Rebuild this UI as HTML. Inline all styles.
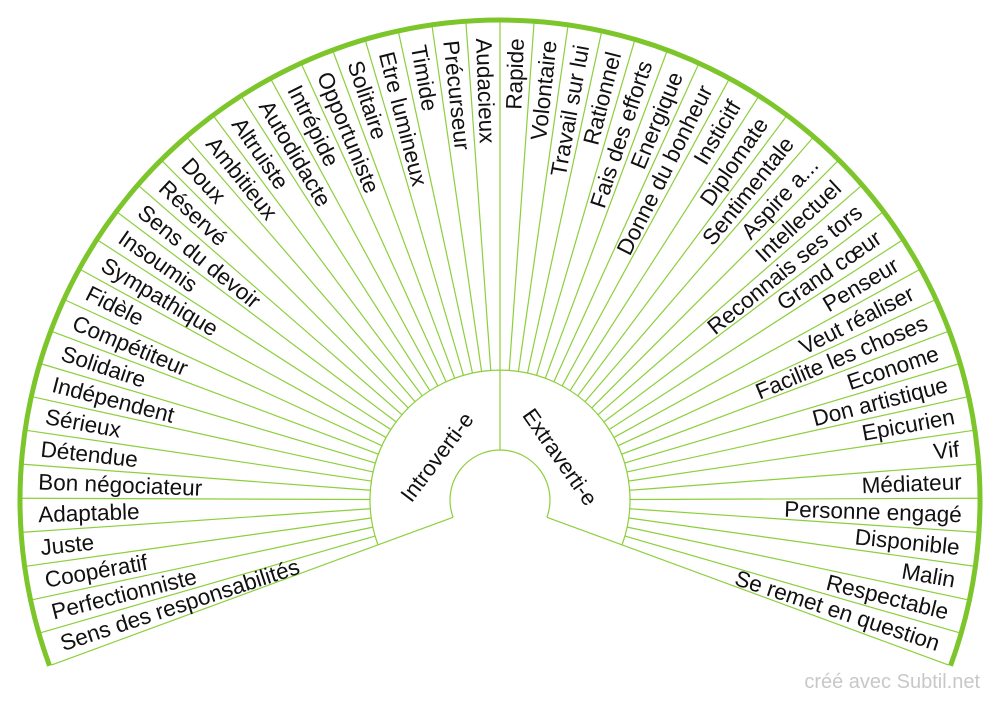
<!DOCTYPE html>
<html><head><meta charset="utf-8"><style>
html,body{margin:0;padding:0;background:#fff;}
svg{display:block;}
text{font-family:"Liberation Sans",Arial,sans-serif;fill:#111;}
.r{font-size:22.5px;dominant-baseline:central;text-anchor:end;}
.l{font-size:22.5px;dominant-baseline:central;text-anchor:start;}
</style></head><body>
<svg width="1000" height="702" viewBox="0 0 1000 702" xmlns="http://www.w3.org/2000/svg">
<g stroke="#8ccf3c" stroke-width="1.2" fill="none">
<path d="M453.1 517.3 A50 50 0 1 1 546.9 517.3"/>
<path d="M378 545 A130 130 0 1 1 622 545"/>
<g transform="translate(500 500)">
<line x1="50" x2="478" transform="rotate(-200.2)"/>
<line x1="50" x2="478" transform="rotate(20.2)"/>
<line x1="50" x2="478" transform="rotate(-90)"/>
<g>
<line x1="130" x2="478" transform="rotate(-196.12)"/>
<line x1="130" x2="478" transform="rotate(-192.04)"/>
<line x1="130" x2="478" transform="rotate(-187.96)"/>
<line x1="130" x2="478" transform="rotate(-183.87)"/>
<line x1="130" x2="478" transform="rotate(-179.79)"/>
<line x1="130" x2="478" transform="rotate(-175.71)"/>
<line x1="130" x2="478" transform="rotate(-171.63)"/>
<line x1="130" x2="478" transform="rotate(-167.55)"/>
<line x1="130" x2="478" transform="rotate(-163.47)"/>
<line x1="130" x2="478" transform="rotate(-159.39)"/>
<line x1="130" x2="478" transform="rotate(-155.30)"/>
<line x1="130" x2="478" transform="rotate(-151.22)"/>
<line x1="130" x2="478" transform="rotate(-147.14)"/>
<line x1="130" x2="478" transform="rotate(-143.06)"/>
<line x1="130" x2="478" transform="rotate(-138.98)"/>
<line x1="130" x2="478" transform="rotate(-134.90)"/>
<line x1="130" x2="478" transform="rotate(-130.81)"/>
<line x1="130" x2="478" transform="rotate(-126.73)"/>
<line x1="130" x2="478" transform="rotate(-122.65)"/>
<line x1="130" x2="478" transform="rotate(-118.57)"/>
<line x1="130" x2="478" transform="rotate(-114.49)"/>
<line x1="130" x2="478" transform="rotate(-110.41)"/>
<line x1="130" x2="478" transform="rotate(-106.33)"/>
<line x1="130" x2="478" transform="rotate(-102.24)"/>
<line x1="130" x2="478" transform="rotate(-98.16)"/>
<line x1="130" x2="478" transform="rotate(-94.08)"/>
<line x1="130" x2="478" transform="rotate(-85.92)"/>
<line x1="130" x2="478" transform="rotate(-81.84)"/>
<line x1="130" x2="478" transform="rotate(-77.76)"/>
<line x1="130" x2="478" transform="rotate(-73.67)"/>
<line x1="130" x2="478" transform="rotate(-69.59)"/>
<line x1="130" x2="478" transform="rotate(-65.51)"/>
<line x1="130" x2="478" transform="rotate(-61.43)"/>
<line x1="130" x2="478" transform="rotate(-57.35)"/>
<line x1="130" x2="478" transform="rotate(-53.27)"/>
<line x1="130" x2="478" transform="rotate(-49.19)"/>
<line x1="130" x2="478" transform="rotate(-45.10)"/>
<line x1="130" x2="478" transform="rotate(-41.02)"/>
<line x1="130" x2="478" transform="rotate(-36.94)"/>
<line x1="130" x2="478" transform="rotate(-32.86)"/>
<line x1="130" x2="478" transform="rotate(-28.78)"/>
<line x1="130" x2="478" transform="rotate(-24.70)"/>
<line x1="130" x2="478" transform="rotate(-20.62)"/>
<line x1="130" x2="478" transform="rotate(-16.53)"/>
<line x1="130" x2="478" transform="rotate(-12.45)"/>
<line x1="130" x2="478" transform="rotate(-8.37)"/>
<line x1="130" x2="478" transform="rotate(-4.29)"/>
<line x1="130" x2="478" transform="rotate(-0.21)"/>
<line x1="130" x2="478" transform="rotate(3.87)"/>
<line x1="130" x2="478" transform="rotate(7.95)"/>
<line x1="130" x2="478" transform="rotate(12.04)"/>
<line x1="130" x2="478" transform="rotate(16.12)"/>
</g>
</g>
</g>
<path d="M49.5 665.7 A480 480 0 1 1 950.5 665.7" stroke="#7cc52a" stroke-width="5" fill="none"/>

<g transform="translate(500 500)">
<text class="l" transform="rotate(-198.16) translate(462 0) rotate(180)">Sens des responsabilités</text>
<text class="l" transform="rotate(-194.08) translate(462 0) rotate(180)">Perfectionniste</text>
<text class="l" transform="rotate(-190.0) translate(462 0) rotate(180)">Coopératif</text>
<text class="l" transform="rotate(-185.92) translate(462 0) rotate(180)">Juste</text>
<text class="l" transform="rotate(-181.83) translate(462 0) rotate(180)">Adaptable</text>
<text class="l" transform="rotate(-177.75) translate(462 0) rotate(180)">Bon négociateur</text>
<text class="l" transform="rotate(-173.67) translate(462 0) rotate(180)">Détendue</text>
<text class="l" transform="rotate(-169.59) translate(462 0) rotate(180)">Sérieux</text>
<text class="l" transform="rotate(-165.51) translate(462 0) rotate(180)">Indépendent</text>
<text class="l" transform="rotate(-161.43) translate(462 0) rotate(180)">Solidaire</text>
<text class="l" transform="rotate(-157.35) translate(462 0) rotate(180)">Compétiteur</text>
<text class="l" transform="rotate(-153.26) translate(462 0) rotate(180)">Fidèle</text>
<text class="l" transform="rotate(-149.18) translate(462 0) rotate(180)">Sympathique</text>
<text class="l" transform="rotate(-145.10) translate(462 0) rotate(180)">Insoumis</text>
<text class="l" transform="rotate(-141.02) translate(462 0) rotate(180)">Sens du devoir</text>
<text class="l" transform="rotate(-136.94) translate(462 0) rotate(180)">Réservé</text>
<text class="l" transform="rotate(-132.86) translate(462 0) rotate(180)">Doux</text>
<text class="l" transform="rotate(-128.77) translate(462 0) rotate(180)">Ambitieux</text>
<text class="l" transform="rotate(-124.69) translate(462 0) rotate(180)">Altruiste</text>
<text class="l" transform="rotate(-120.61) translate(462 0) rotate(180)">Autodidacte</text>
<text class="l" transform="rotate(-116.53) translate(462 0) rotate(180)">Intrépide</text>
<text class="l" transform="rotate(-112.45) translate(462 0) rotate(180)">Opportuniste</text>
<text class="l" transform="rotate(-108.37) translate(462 0) rotate(180)">Solitaire</text>
<text class="l" transform="rotate(-104.29) translate(462 0) rotate(180)">Etre lumineux</text>
<text class="l" transform="rotate(-100.20) translate(462 0) rotate(180)">Timide</text>
<text class="l" transform="rotate(-96.12) translate(462 0) rotate(180)">Précurseur</text>
<text class="l" transform="rotate(-92.04) translate(462 0) rotate(180)">Audacieux</text>
<text class="r" transform="rotate(-87.96) translate(462 0)">Rapide</text>
<text class="r" transform="rotate(-83.88) translate(462 0)">Volontaire</text>
<text class="r" transform="rotate(-79.80) translate(462 0)">Travail sur lui</text>
<text class="r" transform="rotate(-75.71) translate(462 0)">Rationnel</text>
<text class="r" transform="rotate(-71.63) translate(462 0)">Fais des efforts</text>
<text class="r" transform="rotate(-67.55) translate(462 0)">Energique</text>
<text class="r" transform="rotate(-63.47) translate(462 0)">Donne du bonheur</text>
<text class="r" transform="rotate(-59.39) translate(462 0)">Insticitf</text>
<text class="r" transform="rotate(-55.31) translate(462 0)">Diplomate</text>
<text class="r" transform="rotate(-51.23) translate(462 0)">Sentimentale</text>
<text class="r" transform="rotate(-47.14) translate(462 0)">Aspire a...</text>
<text class="r" transform="rotate(-43.06) translate(462 0)">Intellectuel</text>
<text class="r" transform="rotate(-38.98) translate(462 0)">Reconnais ses tors</text>
<text class="r" transform="rotate(-34.90) translate(462 0)">Grand cœur</text>
<text class="r" transform="rotate(-30.82) translate(462 0)">Penseur</text>
<text class="r" transform="rotate(-26.74) translate(462 0)">Veut réaliser</text>
<text class="r" transform="rotate(-22.66) translate(462 0)">Facilite les choses</text>
<text class="r" transform="rotate(-18.57) translate(462 0)">Econome</text>
<text class="r" transform="rotate(-14.49) translate(462 0)">Don artistique</text>
<text class="r" transform="rotate(-10.41) translate(462 0)">Epicurien</text>
<text class="r" transform="rotate(-6.33) translate(462 0)">Vif</text>
<text class="r" transform="rotate(-2.25) translate(462 0)">Médiateur</text>
<text class="r" transform="rotate(1.83) translate(462 0)">Personne engagé</text>
<text class="r" transform="rotate(5.91) translate(462 0)">Disponible</text>
<text class="r" transform="rotate(9.99) translate(462 0)">Malin</text>
<text class="r" transform="rotate(14.08) translate(462 0)">Respectable</text>
<text class="r" transform="rotate(18.16) translate(462 0)">Se remet en question</text>
</g>

<text x="0" y="0" font-size="22" text-anchor="middle" dominant-baseline="central" transform="translate(437 457) rotate(-53)">Introverti-e</text>
<text x="0" y="0" font-size="22" text-anchor="middle" dominant-baseline="central" transform="translate(560 457) rotate(55)">Extraverti-e</text>

<text x="980" y="688" font-size="20" text-anchor="end" style="fill:#c8c8c8">créé avec Subtil.net</text>
</svg>
</body></html>
